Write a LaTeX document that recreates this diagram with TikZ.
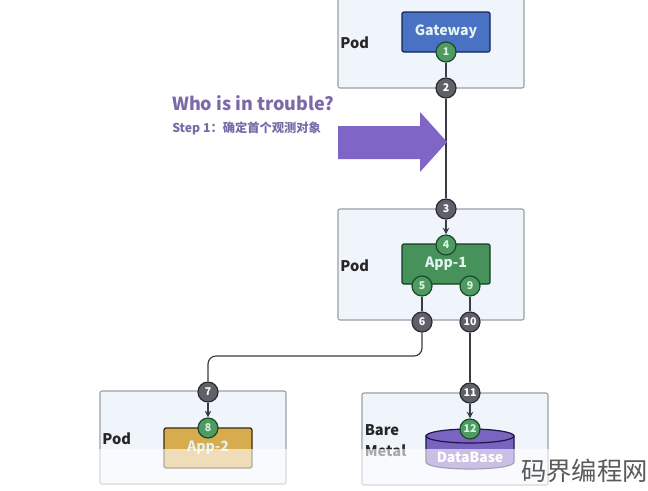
\documentclass[tikz,border=0pt]{standalone}
\usepackage{fontspec}
\setmainfont{Noto Sans CJK SC}
\usetikzlibrary{arrows.meta}
\definecolor{podfill}{HTML}{F0F4FB}
\definecolor{podline}{HTML}{9A9EA6}
\definecolor{gwfill}{HTML}{4A72C4}
\definecolor{gwline}{HTML}{14264F}
\definecolor{appfill}{HTML}{47925A}
\definecolor{appline}{HTML}{143A20}
\definecolor{yelfill}{HTML}{D6AC4E}
\definecolor{yelline}{HTML}{3A2C10}
\definecolor{dbfill}{HTML}{7B63C0}
\definecolor{dbline}{HTML}{1E1648}
\definecolor{badgegreen}{HTML}{4F9A63}
\definecolor{badgegreenline}{HTML}{1A4A2A}
\definecolor{badgegreentext}{HTML}{D8F5DC}
\definecolor{badgegray}{HTML}{5F6068}
\definecolor{badgegrayline}{HTML}{2B2C33}
\definecolor{linkc}{HTML}{3A3C44}
\definecolor{titlec}{HTML}{7A6BA8}
\definecolor{arrowc}{HTML}{7F65C6}
\definecolor{wm}{HTML}{5A5A5A}
\definecolor{apptext}{HTML}{E4F2F0}
\tikzset{
  x=0.75pt,y=-0.75pt,
  podbox/.style={draw=podline,fill=podfill,line width=0.8pt,rounded corners=1.5pt,minimum width=139.5pt,inner sep=0},
  appbox/.style={rounded corners=1.5pt,minimum width=66pt,minimum height=30pt,inner sep=0,line width=0.9pt,
     text=apptext,font=\fontsize{10.6}{12}\selectfont\bfseries},
  badge/.style={circle,minimum size=15pt,inner sep=0,line width=0.9pt,font=\fontsize{8}{8}\selectfont\bfseries},
  gbadge/.style={badge,draw=badgegreenline,fill=badgegreen,text=badgegreentext},
  kbadge/.style={badge,draw=badgegrayline,fill=badgegray,text=white},
  podlabel/.style={inner sep=0,anchor=west,text=black!85,font=\fontsize{11}{12}\selectfont\bfseries},
  link/.style={draw=linkc,line width=0.9pt},
  linkarrow/.style={link,-{Stealth[length=5pt,width=5pt,open]}},
}
\begin{document}
\begin{tikzpicture}
\clip (0,0) rectangle (648,490);
\fill[white] (0,0) rectangle (648,490);

% pods
\node[podbox,minimum height=105pt] (podA) at (431,18) {};
\node[podbox,minimum height=83.25pt] (podB) at (431,264.5) {};
\node[podbox,minimum height=69.75pt] (podC) at (193,437.5) {};
\node[podbox,minimum height=69pt] (podD) at (455,439) {};

\node[podlabel] (lblA) at (340,43) {Pod};
\node[podlabel] (lblB) at (340,266) {Pod};
\node[podlabel] (lblC) at (102,439) {Pod};
\node[podlabel] (lblD) at (364.5,430) {Bare};
\node[podlabel] (lblE) at (364.5,451) {Metal};

% components
\node[appbox,draw=gwline,fill=gwfill] (gw) at (446,32) {\raisebox{-0.5pt}{Gateway}};
\node[appbox,draw=appline,fill=appfill] (app1) at (446,264) {\raisebox{-1.2pt}{App-1}};
\node[appbox,draw=yelline,fill=yelfill] (app2) at (208,448) {\raisebox{-1.2pt}{App-2}};

% database
\filldraw[fill=dbfill,draw=dbline,line width=0.9pt]
  (426,436) -- (426,462) .. controls (426,471.3) and (514,471.3) .. (514,462) -- (514,436) -- cycle;
\filldraw[fill=dbfill,draw=dbline,line width=0.9pt] (470,436) ellipse [x radius=44,y radius=7];
\node[inner sep=0,text=white,font=\fontsize{10.5}{12}\selectfont\bfseries] (db) at (470,457) {DataBase};

% badges
\node[gbadge] (n1) at (446,52) {1};
\node[kbadge] (n2) at (446,88) {2};
\node[kbadge] (n3) at (446,209) {3};
\node[gbadge] (n4) at (446,245) {4};
\node[gbadge] (n5) at (422,286) {5};
\node[gbadge] (n9) at (470,286) {9};
\node[kbadge] (n6) at (422,322) {6};
\node[kbadge] (n10) at (470,322) {10};
\node[kbadge] (n7) at (208,392) {7};
\node[gbadge] (n8) at (208,428) {8};
\node[kbadge] (n11) at (470,393) {11};
\node[gbadge] (n12) at (470,429) {12};

% connectors
\draw[link] (n1) -- (n2);
\draw[link] (n2) -- (n3);
\draw[linkarrow] (n3) -- (n4);
\draw[link] (n5) -- (n6);
\draw[link] (n9) -- (n10);
\draw[link,rounded corners=6pt] (n6) |- (n7 |- 0,356) -- (n7);
\draw[linkarrow] (n7) -- (n8);
\draw[link] (n10) -- (n11);
\draw[linkarrow] (n11) -- (n12);

% big arrow and heading
\fill[arrowc] (338,126) -- (420,126) -- (420,112) -- (447,142) -- (420,172) -- (420,159) -- (338,159) -- cycle;
\node[inner sep=0,anchor=west,text=titlec,font=\fontsize{13.5}{16}\selectfont\bfseries] (title) at (172,103) {Who is in trouble?};
\node[inner sep=0,anchor=west,text=titlec,font=\fontsize{9.2}{11}\selectfont\bfseries] (step) at (172,128.5) {Step 1：确定首个观测对象};

% fading band and watermark
\fill[white,opacity=0.6] (0,449) rectangle (648,490);
\node[inner sep=0,anchor=east,text=wm,font=\fontsize{19}{22}\selectfont] (mark) at (648,471) {码界编程网};
\end{tikzpicture}
\end{document}
